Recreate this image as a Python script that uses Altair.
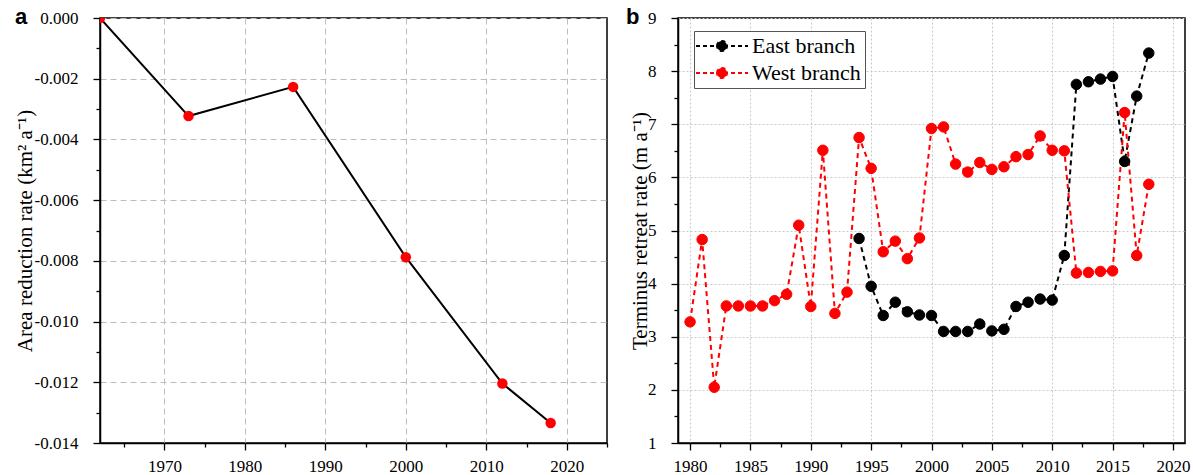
import altair as alt
import pandas as pd

# ---------------- data ----------------
# Panel a: area reduction rate
area_years = [1962, 1973, 1986, 2000, 2012, 2018]
area_rate = [0.0, -0.00323, -0.00227, -0.00788, -0.01204, -0.01334]

# Panel b: terminus retreat rate
west_years = list(range(1980, 2019))
west_rate = [3.28, 4.83, 2.05, 3.58, 3.58, 3.58, 3.58, 3.68, 3.80, 5.10,
             3.57, 6.51, 3.44, 3.84, 6.75, 6.17, 4.60, 4.80, 4.47, 4.86,
             6.92, 6.95, 6.25, 6.10, 6.28, 6.15, 6.20, 6.39, 6.43, 6.78,
             6.51, 6.50, 4.20, 4.21, 4.23, 4.24, 7.22, 4.53, 5.87]
east_years = list(range(1994, 2019))
east_rate = [4.85, 3.95, 3.40, 3.65, 3.47, 3.41, 3.40, 3.10, 3.10, 3.10,
             3.24, 3.11, 3.14, 3.57, 3.65, 3.71, 3.69, 4.53, 7.75, 7.80,
             7.85, 7.90, 6.30, 7.53, 8.34]
series_names = ["East branch", "West branch"]
series_colors = ["#000000", "#ff0000"]

# tick values (major + minor)
a_x_ticks = [1965, 1970, 1975, 1980, 1985, 1990, 1995, 2000, 2005, 2010, 2015, 2020, 2025]
a_y_ticks = [-0.014, -0.013, -0.012, -0.011, -0.010, -0.009, -0.008, -0.007,
             -0.006, -0.005, -0.004, -0.003, -0.002, -0.001, 0.0]
b_x_ticks = [1980, 1982.5, 1985, 1987.5, 1990, 1992.5, 1995, 1997.5, 2000,
             2002.5, 2005, 2007.5, 2010, 2012.5, 2015, 2017.5, 2020]
b_y_ticks = [1, 1.5, 2, 2.5, 3, 3.5, 4, 4.5, 5, 5.5, 6, 6.5, 7, 7.5, 8, 8.5, 9]

df_a = pd.DataFrame({"year": area_years, "rate": area_rate})
df_b = pd.concat([
    pd.DataFrame({"year": east_years, "rate": east_rate, "series": series_names[0]}),
    pd.DataFrame({"year": west_years, "rate": west_rate, "series": series_names[1]}),
], ignore_index=True)

SERIF = "Liberation Serif"
SANS = "Liberation Sans"


def axis(values, major_test, label_expr, title=None, title_x=None, title_y=None,
         grid_dash=(6, 4), grid_color="#bdbdbd", orient="bottom"):
    kw = dict(
        values=values,
        labelExpr=label_expr,
        tickSize={"condition": {"test": major_test, "value": 7}, "value": 4},
        gridOpacity={"condition": {"test": major_test, "value": 1}, "value": 0},
        grid=True,
        gridDash=list(grid_dash),
        gridColor=grid_color,
        gridWidth=1,
        domainColor="black",
        domainWidth=1.5,
        tickColor="black",
        tickWidth=1.3,
        labelFont=SERIF,
        labelFontSize=17,
        labelColor="black",
        titleFont=SERIF,
        titleFontSize=21,
        titleFontWeight="normal",
        titleColor="black",
        title=title if title is not None else "",
    )
    if orient == "bottom":
        kw.update(labelBaseline="alphabetic", labelPadding=21)
    else:
        kw.update(labelPadding=15)
    if title_x is not None:
        kw.update(titleX=title_x, titleY=title_y, titleAngle=-90,
                  titleBaseline="middle", titleAlign="center")
    return alt.Axis(**kw)


W, H = 507, 425

# ---------------- panel a ----------------
xa = alt.X("year:Q", scale=alt.Scale(domain=[1962, 2025], nice=False, zero=False),
           axis=axis(a_x_ticks, "datum.value % 10 === 0",
                     "datum.value % 10 === 0 ? format(datum.value, 'd') : ''"))
ya = alt.Y("rate:Q", scale=alt.Scale(domain=[-0.014, 0], nice=False),
           axis=axis(a_y_ticks, "round(datum.value*1000) % 2 === 0",
                     "round(datum.value*1000) % 2 === 0 ? replace(format(datum.value, '.3f'), '\u2212', '-') : ''",
                     title="Area reduction rate (km\u00b2 a\u207b\u00b9)", title_x=-75, title_y=H / 2,
                     orient="left"))

base_a = alt.Chart(df_a)
line_a = base_a.mark_line(color="black", strokeWidth=2, clip=True).encode(x=xa, y=ya)
pts_a = base_a.mark_point(filled=True, color="#ff0000", size=110, opacity=1, clip=True).encode(x=xa, y=ya)
panel_a = alt.layer(line_a, pts_a).properties(
    width=W, height=H,
    title=alt.TitleParams("a", anchor="start", frame="group", dx=-85, dy=37, offset=0,
                          baseline="alphabetic", font=SANS, fontSize=22, fontWeight="bold",
                          color="black"),
)

# ---------------- panel b ----------------
xb = alt.X("year:Q", scale=alt.Scale(domain=[1979, 2021], nice=False, zero=False),
           axis=axis(b_x_ticks, "datum.value % 5 === 0",
                     "datum.value % 5 === 0 ? format(datum.value, 'd') : ''",
                     grid_dash=(2, 2), grid_color="#c8c8c8"))
yb = alt.Y("rate:Q", scale=alt.Scale(domain=[1, 9], nice=False, zero=False),
           axis=axis(b_y_ticks, "datum.value % 1 === 0",
                     "datum.value % 1 === 0 ? format(datum.value, 'd') : ''",
                     title="Terminus retreat rate (m a\u207b\u00b9)", title_x=-38, title_y=H / 2,
                     grid_dash=(2, 2), grid_color="#c8c8c8", orient="left"))

legend = alt.Legend(
    orient="none", legendX=16, legendY=13, title=None,
    labelFont=SERIF, labelFontSize=22, labelColor="black", labelOffset=19,
    symbolType="M-2.6,0L2.6,0M-0.5,0A0.5,0.5,0,1,1,0.5,0A0.5,0.5,0,1,1,-0.5,0Z",
    symbolSize=400, symbolStrokeWidth=2, symbolDash=[4, 3], symbolOffset=13,
    strokeColor="#555555", fillColor="white", padding=4, rowPadding=5,
)
scale_b = alt.Scale(domain=series_names, range=series_colors)

base_b = alt.Chart(df_b)
line_b = base_b.mark_line(strokeWidth=2, strokeDash=[5, 4]).encode(
    x=xb, y=yb, color=alt.Color("series:N", scale=scale_b, legend=legend),
    detail="series:N",
)
pts_b = base_b.mark_point(filled=True, size=110, opacity=1, strokeWidth=1).encode(
    x=xb, y=yb,
    fill=alt.Fill("series:N", scale=scale_b, legend=legend),
    stroke=alt.Stroke("series:N", scale=scale_b, legend=legend),
)
panel_b = alt.layer(line_b, pts_b).properties(
    width=W, height=H,
    title=alt.TitleParams("b", anchor="start", frame="group", dx=-52, dy=37, offset=0,
                          baseline="alphabetic", font=SANS, fontSize=22, fontWeight="bold",
                          color="black"),
)

chart = alt.hconcat(panel_a, panel_b, spacing=71, bounds="flush").resolve_legend(
    color="independent", fill="independent", stroke="independent"
).properties(
    padding={"left": 13, "top": 5, "right": 0, "bottom": 0},
    background="white",
).configure_view(stroke="black", strokeWidth=1.5)

chart.save("out.html", embed_options={"renderer": "svg", "actions": False})
